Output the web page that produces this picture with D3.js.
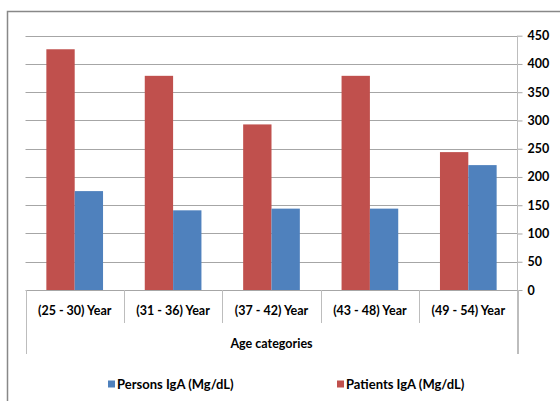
<!DOCTYPE html>
<html><head><meta charset="utf-8">
<script src="https://cdn.jsdelivr.net/npm/d3@7/dist/d3.min.js"></script>
<style>
html,body{margin:0;padding:0;background:#fff;}
svg text{font-family:Lato,"Open Sans",sans-serif;font-weight:bold;fill:#000;}
</style></head><body>
<svg id="c" width="560" height="401"></svg>
<script>
const categories = ["(25 - 30) Year","(31 - 36) Year","(37 - 42) Year","(43 - 48) Year","(49 - 54) Year"];
const patientsIgA = [426, 379, 293, 379, 244];
const personsIgA  = [175, 141, 144, 144, 221];
const yTicks = [0,50,100,150,200,250,300,350,400,450];
const seriesNames = ["Patients IgA (Mg/dL)", "Persons IgA (Mg/dL)"];
const legendOrder = ["Persons IgA (Mg/dL)", "Patients IgA (Mg/dL)"];
const axisTitle = "Age categories";
const colors = {"Patients IgA (Mg/dL)":"#C0504D","Persons IgA (Mg/dL)":"#4F81BD"};

const svg = d3.select("#c");
// chart frame
svg.append("path").attr("d","M7.5,401 V11.5 H560").attr("fill","none").attr("stroke","#888").attr("stroke-width",1.5);

const L = 25.5, R = 517.5, T = 35.7, B = 290;
const x0 = d3.scaleBand().domain(categories).range([L,R]).padding(0);
const bw = x0.bandwidth();
const gw = bw*0.576;
const x1 = d3.scaleBand().domain(seriesNames).range([0,gw]).padding(0);
const y = d3.scaleLinear().domain([0,450]).range([B,T]);

// gridlines
svg.append("g").selectAll("line").data(yTicks.filter(d=>d>0)).join("line")
  .attr("x1",L).attr("x2",R).attr("y1",d=>Math.round(y(d))+0.5).attr("y2",d=>Math.round(y(d))+0.5)
  .attr("stroke","#a6a6a6").attr("stroke-width",1);

// bars
const data = categories.map((c,i)=>({c, vals:[
  {s:seriesNames[0], v:patientsIgA[i]},
  {s:seriesNames[1], v:personsIgA[i]}]}));
const g = svg.append("g").selectAll("g").data(data).join("g")
  .attr("transform",d=>`translate(${x0(d.c)+(bw-gw)/2},0)`);
g.selectAll("rect").data(d=>d.vals).join("rect")
  .attr("x",d=>x1(d.s)).attr("width",x1.bandwidth())
  .attr("y",d=>y(d.v)).attr("height",d=>y(0)-y(d.v))
  .attr("fill",d=>colors[d.s]);

// right axis
const ax = svg.append("g").attr("transform",`translate(${R},0)`)
  .call(d3.axisRight(y).tickValues(yTicks).tickSize(5).tickPadding(5));
ax.select(".domain").remove();
ax.selectAll(".tick line").attr("stroke","#a6a6a6");
ax.selectAll(".tick text").style("font-size","12.5px");
svg.append("line").attr("x1",R).attr("x2",R).attr("y1",T).attr("y2",354)
  .attr("stroke","#bdbdbd").attr("stroke-width",1);

// category axis
svg.append("line").attr("x1",L).attr("x2",R).attr("y1",B+0.5).attr("y2",B+0.5).attr("stroke","#a6a6a6");
const xa = svg.append("g").attr("transform",`translate(0,${B})`)
  .call(d3.axisBottom(x0).tickSize(0).tickPadding(16));
xa.select(".domain").remove();
xa.selectAll(".tick text").style("font-size","12.5px");
// dividers
const divs = categories.map(c=>x0(c)).concat([R]);
svg.append("g").selectAll("line").data(divs).join("line")
  .attr("x1",d=>Math.round(d)+0.5).attr("x2",d=>Math.round(d)+0.5)
  .attr("y1",B).attr("y2",(d,i)=>(i===0||i===divs.length-1)?354:323)
  .attr("stroke","#bdbdbd");
svg.append("text").attr("x",(L+R)/2).attr("y",348).attr("text-anchor","middle")
  .style("font-size","12.5px").text(axisTitle);

// legend
const legX = [108, 337];
const lg = svg.append("g").selectAll("g").data(legendOrder).join("g")
  .attr("transform",(d,i)=>`translate(${legX[i]},384)`);
lg.append("rect").attr("x",0).attr("y",-3.5).attr("width",7).attr("height",7).attr("fill",d=>colors[d]);
lg.append("text").attr("x",9).attr("y",4.5).style("font-size","13px").text(d=>d);
</script>
</body></html>
